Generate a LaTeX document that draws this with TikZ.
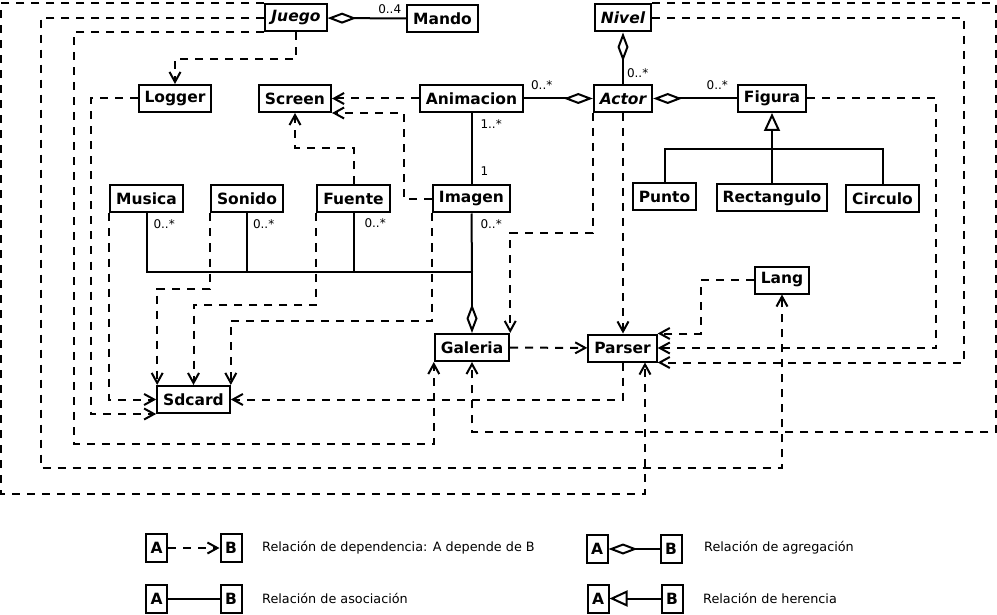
\documentclass[tikz,border=0pt]{standalone}
\usepackage{fontspec}
\setmainfont{DejaVu Sans}
\usepackage{tikz}
\usetikzlibrary{arrows.meta}

\tikzset{
  clase/.style={draw, line width=2pt, fill=white, font=\fontsize{15.5}{16}\selectfont\bfseries,
    inner xsep=6pt, inner ysep=0pt, minimum height=27pt},
  abstracta/.style={clase, font=\fontsize{15.5}{16}\selectfont\bfseries\itshape},
  letra/.style={clase, inner xsep=0pt, minimum width=21pt, minimum height=28pt},
  dep/.style={line width=2pt, dash pattern=on 8pt off 7pt, -{Straight Barb[length=10pt,width=11pt]}},
  asoc/.style={line width=2pt},
  agreg/.style={line width=2pt, {Diamond[open,length=29pt,width=11pt]}-},
  hereda/.style={line width=2pt, {Triangle[open,length=18pt,width=16pt]}-},
  mult/.style={font=\fontsize{12}{12}\selectfont, inner sep=1pt},
  leyenda/.style={font=\fontsize{12.8}{13}\selectfont, anchor=west, inner sep=0pt}
}

\begin{document}
\begin{tikzpicture}[x=1pt, y=-1pt]
  \useasboundingbox (0,0) rectangle (997,615);

  \node[abstracta] (juego) at (296,18) {Juego};
  \node[clase] (mando) at (442.5,18.5) {Mando};
  \node[abstracta] (nivel) at (623,18) {Nivel};
  \node[clase] (logger) at (175,98.5) {Logger};
  \node[clase] (screen) at (295,98.5) {Screen};
  \node[clase] (animacion) at (471.5,98.5) {Animacion};
  \node[abstracta] (actor) at (623,98.5) {Actor};
  \node[clase] (figura) at (772,98.5) {Figura};
  \node[clase] (musica) at (146.5,199) {Musica};
  \node[clase] (sonido) at (247,199) {Sonido};
  \node[clase] (fuente) at (353.5,199) {Fuente};
  \node[clase] (imagen) at (471.5,199) {Imagen};
  \node[clase] (punto) at (664.5,197) {Punto};
  \node[clase] (rectangulo) at (772,198) {Rectangulo};
  \node[clase] (circulo) at (882.5,199) {Circulo};
  \node[clase] (lang) at (782,280) {Lang};
  \node[clase] (galeria) at (472,347.5) {Galeria};
  \node[clase] (parser) at (622.5,348) {Parser};
  \node[clase] (sdcard) at (193.5,399.5) {Sdcard};
  \coordinate (bus) at (472,272);

  % agregaciones y asociaciones
  \draw[agreg] (juego) -- (mando) node[mult, at end, anchor=south east, xshift=-3pt, yshift=3pt] {0..4};
  \draw[agreg] (actor) -- (animacion) node[mult, at end, anchor=south west, xshift=5pt, yshift=7pt] {0..*};
  \draw[agreg] (nivel) -- (actor) node[mult, at end, anchor=south west, xshift=2pt, yshift=4pt] {0..*};
  \draw[agreg] (actor) -- (figura) node[mult, at end, anchor=south east, xshift=-7pt, yshift=7pt] {0..*};
  \draw[asoc] (animacion) -- (imagen)
    node[mult, at start, anchor=north west, xshift=7pt, yshift=-5pt] {1..*}
    node[mult, at end, anchor=south west, xshift=7pt, yshift=7pt] {1};
  \draw[agreg] (galeria.north) -- (bus);
  \draw[asoc] (imagen.south) node[mult, anchor=north west, xshift=7pt, yshift=-4pt] {0..*} -- (bus);
  \draw[asoc] (musica.south) node[mult, anchor=north west, xshift=5pt, yshift=-4pt] {0..*} |- (bus);
  \draw[asoc] (sonido.south) node[mult, anchor=north west, xshift=4pt, yshift=-4pt] {0..*} -- (sonido.south |- bus);
  \draw[asoc] (fuente.south) node[mult, anchor=north west, xshift=9pt, yshift=-3pt] {0..*} -- (fuente.south |- bus);

  % herencia
  \draw[hereda] (figura.south) -- ++(0,36) coordinate (hub);
  \draw[asoc] (punto.north) |- (hub) -| (circulo.north);
  \draw[asoc] (rectangulo) -- (hub);

  % dependencias
  \draw[dep] (juego.south) -- ++(0,27) -| (logger.north);
  \draw[dep] (juego.north west) -| (1,494) -| ([xshift=22.5pt]parser.south);
  \draw[dep] (juego.west) -| (41,468) -| (lang.south);
  \draw[dep] (juego.south west) -| (74,444) -| (galeria.south west);
  \draw[dep] (logger.west) -- ++(-47,0) |- (sdcard.south west);
  \draw[dep] (animacion) -- (screen);
  \draw[dep] (imagen.west) -- ++(-28,0) |- (screen.south east);
  \draw[dep] (fuente.north) -- ++(0,-36) -| (screen.south);
  \draw[dep] (musica.south west) |- (sdcard.west);
  \draw[dep] (sonido.south west) -- ++(0,75) -| ([xshift=1pt]sdcard.north west);
  \draw[dep] (fuente.south west) -- ++(0,91) -| (sdcard.north);
  \draw[dep] (imagen.south west) -- ++(0,107) -| (sdcard.north east);
  \draw[dep] (parser.south) |- (sdcard.east);
  \draw[dep] (galeria) -- (parser);
  \draw[dep] (actor.south west) -- ++(0,120) -| (galeria.north east);
  \draw[dep] (actor.south) -- (actor.south |- parser.north);
  \draw[dep] (lang.west) -- ++(-53,0) |- (parser.north east);
  \draw[dep] (figura.east) -- ++(129,0) |- (parser.east);
  \draw[dep] (nivel.east) -- ++(312,0) |- (parser.south east);
  \draw[dep] (nivel.north east) -| (996,432) -| (galeria.south);

  % leyenda
  \node[letra] (a1) at (156.5,548) {A};
  \node[letra] (b1) at (231,548) {B};
  \node[letra] (a2) at (156.5,599) {A};
  \node[letra] (b2) at (231,599) {B};
  \node[letra] (a3) at (597,549) {A};
  \node[letra] (b3) at (671,549) {B};
  \node[letra] (a4) at (598,598.5) {A};
  \node[letra] (b4) at (672,598.5) {B};
  \draw[dep] (a1) -- (b1);
  \draw[asoc] (a2) -- (b2);
  \draw[agreg] (a3) -- (b3);
  \draw[hereda] (a4) -- (b4);
  \node[leyenda] (t1) at (262,548) {Relación de dependencia: A depende de B};
  \node[leyenda] (t2) at (262,598) {Relación de asociación};
  \node[leyenda] (t3) at (704,548) {Relación de agregación};
  \node[leyenda] (t4) at (703,598) {Relación de herencia};
\end{tikzpicture}
\end{document}
